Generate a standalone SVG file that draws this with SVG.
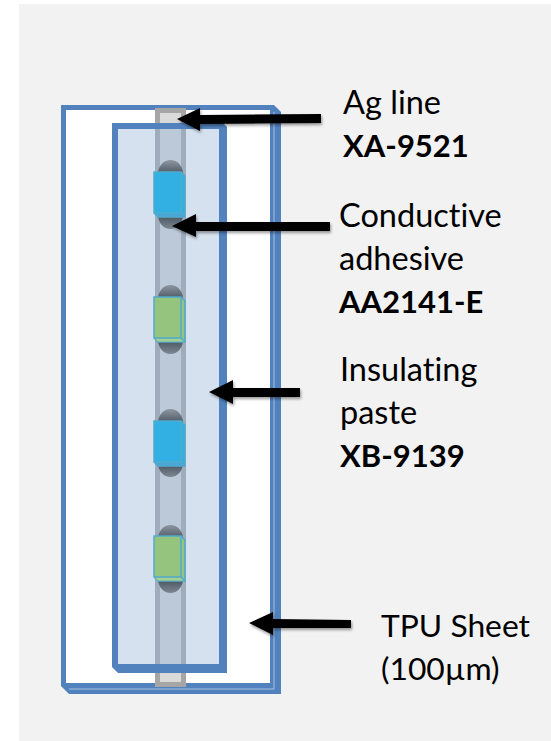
<svg xmlns="http://www.w3.org/2000/svg" width="551" height="741" viewBox="0 0 551 741">
<defs>
<style>
text{font-family:"Lato","Open Sans","Liberation Sans",sans-serif;font-size:32.500px;fill:#000;font-variant-ligatures:none}
.b{font-weight:700;font-size:31px}
.s{font-size:31.800px}
.arr{fill:#000;filter:url(#sh)}
.dt{fill:url(#dome)}
.db{fill:url(#dome2)}
.face{stroke:#52aacb;stroke-width:1.500}
.blue{fill:#33b0e3}
.green{fill:#94c47e}
.edge{fill:none;stroke:#52aacb;stroke-width:1.500}
.sideb{fill:#4aa6d6}
.sideg{fill:#a6cf94}
</style>
<filter id="sh" x="-20%" y="-60%" width="140%" height="240%"><feGaussianBlur in="SourceAlpha" stdDeviation="1.5"/><feOffset dx="1" dy="2"/><feComponentTransfer><feFuncA type="linear" slope="0.4"/></feComponentTransfer><feMerge><feMergeNode/><feMergeNode in="SourceGraphic"/></feMerge></filter>
<linearGradient id="dome" x1="0" y1="0" x2="0" y2="1"><stop offset="0" stop-color="#8d97a1"/><stop offset="1" stop-color="#414d59"/></linearGradient>
<linearGradient id="dome2" x1="0" y1="0" x2="0" y2="1"><stop offset="0" stop-color="#3f4b57"/><stop offset="1" stop-color="#7d8792"/></linearGradient>
</defs>
<rect width="551" height="741" fill="#fff"/>
<rect x="19" y="4" width="532" height="737" fill="#f2f2f2"/>
<g id="tpu-sheet">
<path d="M61 105H274L281 112V694H69L61 686Z" fill="#5182bd"/>
<rect x="66" y="110" width="204" height="573" fill="#fff"/>
<path d="M274 112V689H69" fill="none" stroke="#a9c1de" stroke-width="1"/>
</g>
<g id="ag-line-top">
<rect x="155" y="108" width="31" height="579" fill="#a6a6a6"/>
<rect x="160" y="113" width="21" height="569" fill="#dadada"/>
</g>
<g id="insulating-paste">
<path d="M112 123H223L227 127V673H118L112 667Z" fill="#5182bd"/>
<rect x="118" y="129" width="101" height="535" fill="#d6e1ef"/>
<rect x="155" y="129" width="31" height="535" fill="#9facbb"/>
<rect x="160" y="129" width="21" height="535" fill="#bcc9d9"/>
</g>
<g id="chip-1">
<path d="M158 176V174A12.500 14 0 0 1 183 174V176Z" class="dt"/>
<path d="M158 213V215A12.500 14 0 0 0 183 215V213Z" class="db"/>
<path d="M154 172H181L185 176V217H158L154 213Z" class="blue face"/>
<path d="M155 213.800H181L184 216.500H158Z" class="sideb"/>
<path d="M154 213H181V172M181 213L185 217" class="edge"/>
</g>
<g id="chip-2">
<path d="M158 301V299A12.500 14 0 0 1 183 299V301Z" class="dt"/>
<path d="M158 338V340A12.500 14 0 0 0 183 340V338Z" class="db"/>
<path d="M154 297H181L185 301V342H158L154 338Z" class="green face"/>
<path d="M155 338.800H181L184 341.500H158Z" class="sideg"/>
<path d="M154 338H181V297M181 338L185 342" class="edge"/>
</g>
<g id="chip-3">
<path d="M158 425V423A12.500 14 0 0 1 183 423V425Z" class="dt"/>
<path d="M158 462V463A12.500 14 0 0 0 183 463V462Z" class="db"/>
<path d="M154 421H181L185 425V466H158L154 462Z" class="blue face"/>
<path d="M155 462.800H181L184 465.500H158Z" class="sideb"/>
<path d="M154 462H181V421M181 462L185 466" class="edge"/>
</g>
<g id="chip-4">
<path d="M158 541V539A12.500 14 0 0 1 183 539V541Z" class="dt"/>
<path d="M158 577V579A12.500 14 0 0 0 183 579V577Z" class="db"/>
<path d="M154 536H181L185 540V581H158L154 577Z" class="green face"/>
<path d="M155 577.800H181L184 580.500H158Z" class="sideg"/>
<path d="M154 577H181V536M181 577L185 581" class="edge"/>
</g>
<g id="connectors">
<path class="arr" d="M177 119L200 108V115L321 114V123L200 124V131Z"/>
<path class="arr" d="M172 226L196 214V222L330 222V231L196 231V237Z"/>
<path class="arr" d="M209 392L233 380V388L300 388V397L233 397V404Z"/>
<path class="arr" d="M249 623L273 612V619L351 620V628L273 628V635Z"/>
</g>
<g id="labels">
<text x="343" y="114">Ag line</text>
<text class="b" x="343" y="157">XA-9521</text>
<text x="339" y="227">Conductive</text>
<text x="339" y="270">adhesive</text>
<text class="b" x="339" y="313">AA2141-E</text>
<text x="340" y="381">Insulating</text>
<text x="340" y="424">paste</text>
<text class="b" x="340" y="467">XB-9139</text>
<text class="s" x="381" y="637">TPU Sheet</text>
<text class="s" x="381" y="680">(100µm)</text>
</g>
</svg>
